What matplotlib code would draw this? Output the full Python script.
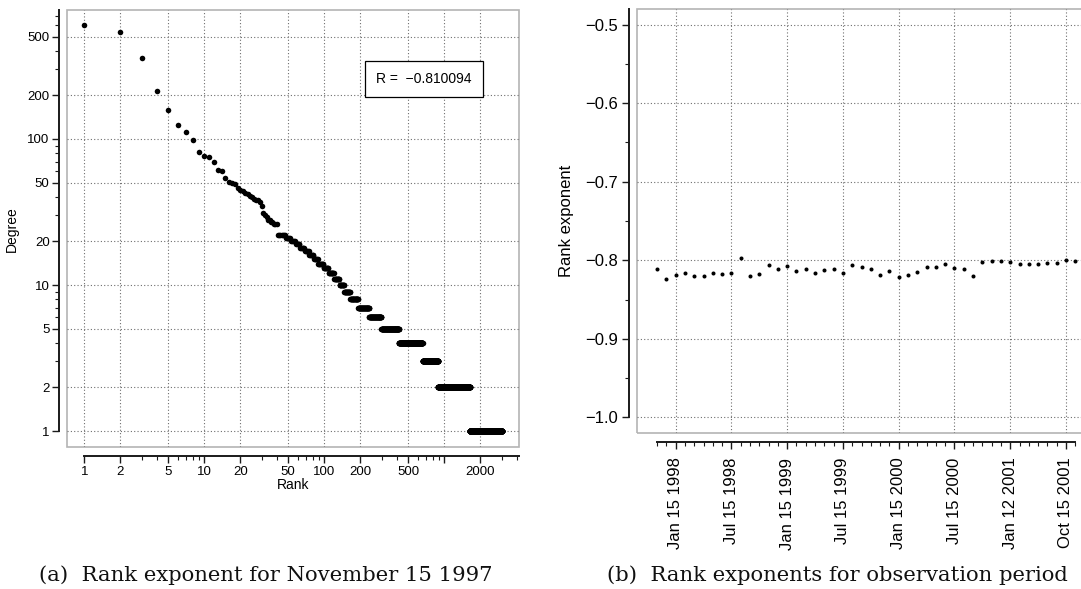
import numpy as np
import matplotlib
matplotlib.use("Agg")
import matplotlib.pyplot as plt
from matplotlib.patches import Rectangle
from matplotlib.ticker import FixedLocator, NullFormatter

plt.rcParams["font.family"] = ["Liberation Sans", "DejaVu Sans"]

# ---- degree/rank data (AS graph, November 15 1997) ----
top_degrees = [600, 540, 358, 213, 159, 124, 112, 99, 82, 77,
               75, 70, 61, 60, 54, 51, 50, 49, 46, 45,
               44, 43, 42, 41, 40, 39, 38, 38, 37, 35,
               31, 30, 29, 28, 28, 27, 27, 26, 26, 26]
plateau_degrees = [22, 21, 20, 19, 18, 17, 16, 15, 14, 13, 12,
                   11, 10, 9, 8, 7, 6, 5, 4, 3, 2, 1]
plateau_counts = [7, 5, 5, 5, 6, 6, 7, 7, 10, 10, 12,
                  13, 13, 18, 27, 45, 62, 120, 241, 228, 742, 1386]
rank_exponent_R = -0.810094

# ---- rank exponent per observation ----
obs_exponents = [-0.8106, -0.8237, -0.8190, -0.8160, -0.8200, -0.8200, -0.8165, -0.8170,
                 -0.8160, -0.7974, -0.8200, -0.8170, -0.8067, -0.8110, -0.8076, -0.8135,
                 -0.8110, -0.8160, -0.8127, -0.8110, -0.8160, -0.8067, -0.8088, -0.8110,
                 -0.8190, -0.8140, -0.8216, -0.8190, -0.8150, -0.8080, -0.8090, -0.8050,
                 -0.8097, -0.8106, -0.8200, -0.8020, -0.8012, -0.8004, -0.8020, -0.8046,
                 -0.8046, -0.8046, -0.8030, -0.8030, -0.8000, -0.8012]
date_tick_index = [2, 8, 14, 20, 26, 32, 38, 44]
date_tick_labels = ["Jan 15 1998", "Jul 15 1998", "Jan 15 1999", "Jul 15 1999",
                    "Jan 15 2000", "Jul 15 2000", "Jan 12 2001", "Oct 15 2001"]

W, H = 1081, 589
fig = plt.figure(figsize=(W / 100, H / 100), dpi=100)
fig.patch.set_facecolor("white")

FRAME = "#b4b4b4"
GRID = dict(color="#6e6e6e", linestyle=(0, (1, 2)), linewidth=0.8)
AXC = "#1a1a1a"
FS_A = 9.5
FS_B = 12


def px_axes(x0, y0, x1, y1):
    return fig.add_axes([x0 / W, 1 - y1 / H, (x1 - x0) / W, (y1 - y0) / H])


def style_axes(ax, left_out, bottom_out, fs, pad):
    for s in ("top", "right"):
        ax.spines[s].set_visible(False)
    ax.spines["left"].set_position(("outward", left_out * 0.72))
    ax.spines["bottom"].set_position(("outward", bottom_out * 0.72))
    for s in ("left", "bottom"):
        ax.spines[s].set_linewidth(1.4)
        ax.spines[s].set_color(AXC)
    ax.add_patch(Rectangle((0, 0), 1, 1, transform=ax.transAxes, fill=False,
                           edgecolor=FRAME, linewidth=1.2, clip_on=False, zorder=0))
    ax.tick_params(which="major", direction="out", length=5, width=1.0,
                   color=AXC, labelsize=fs, pad=pad)
    ax.tick_params(which="minor", direction="out", length=3, width=0.8, color=AXC)


# ================= (a) rank plot =================
axa = px_axes(67.3, 10, 519, 447.3)
ranks = np.arange(1, len(top_degrees) + sum(plateau_counts) + 1)
degrees = np.concatenate([top_degrees, np.repeat(plateau_degrees, plateau_counts)])
axa.set_xscale("log")
axa.set_yscale("log")
axa.set_xlim(0.7217, 4193)
axa.set_ylim(0.7736, 764.7)
style_axes(axa, 8, 8.7, FS_A, 2)

xmaj = [1, 2, 5, 10, 20, 50, 100, 200, 500, 1000, 2000]
xlab = ["1", "2", "5", "10", "20", "50", "100", "200", "500", "", "2000"]
minor_mult = [3, 4, 6, 7, 8, 9]
xmin_t = [m * 10 ** k for k in range(0, 4) for m in minor_mult if m * 10 ** k < 4200]
axa.xaxis.set_major_locator(FixedLocator(xmaj))
axa.set_xticklabels(xlab)
axa.xaxis.set_minor_locator(FixedLocator(xmin_t))
axa.xaxis.set_minor_formatter(NullFormatter())
ymaj = [1, 2, 5, 10, 20, 50, 100, 200, 500]
ymin_t = [m * 10 ** k for k in range(0, 3) for m in minor_mult if m * 10 ** k < 760]
axa.yaxis.set_major_locator(FixedLocator(ymaj))
axa.set_yticklabels([str(v) for v in ymaj])
axa.yaxis.set_minor_locator(FixedLocator(ymin_t))
axa.yaxis.set_minor_formatter(NullFormatter())
axa.spines["bottom"].set_bounds(1, 4193)
axa.spines["left"].set_bounds(1, 764.7)
axa.grid(True, which="major", **GRID)
axa.set_axisbelow(True)

axa.plot(ranks, degrees, "o", color="black", markersize=4.0, markeredgewidth=0, zorder=3)
axa.set_xlabel("Rank", fontsize=FS_A + 0.5, labelpad=0)
axa.set_ylabel("Degree", fontsize=FS_A + 0.5, labelpad=6)
axa.text(0.79, 0.843, "R =  \u2212%.6f" % abs(rank_exponent_R), transform=axa.transAxes,
         ha="center", va="center", fontsize=FS_A + 0.5,
         bbox=dict(boxstyle="square,pad=0.8", facecolor="white", edgecolor="black",
                   linewidth=0.9), zorder=5)

# ================= (b) exponents over time =================
idx = np.arange(len(obs_exponents))
x0b = 637.0
step = 9.293
x_at0 = 657.1
xr_lim = 47.0
axb = px_axes(x0b, 9.3, x_at0 + step * xr_lim, 433)
axb.set_xlim((x0b - x_at0) / step, xr_lim)
axb.set_ylim(-1.0199, -0.4806)
style_axes(axb, 7.7, 9.3, FS_B, 3)
axb.xaxis.set_major_locator(FixedLocator(date_tick_index))
axb.set_xticklabels(date_tick_labels, rotation=90)
axb.tick_params(axis="x", which="major", pad=6)
axb.xaxis.set_minor_locator(FixedLocator(list(idx)))
yvals = [-1.0, -0.9, -0.8, -0.7, -0.6, -0.5]
axb.yaxis.set_major_locator(FixedLocator(yvals))
axb.set_yticklabels(["\u2212%.1f" % abs(v) for v in yvals])
axb.yaxis.set_minor_locator(FixedLocator([-0.95, -0.85, -0.75, -0.65, -0.55]))
axb.spines["bottom"].set_bounds(0, len(obs_exponents) - 1)
axb.spines["left"].set_bounds(-1.0, -0.4806)
axb.grid(True, which="major", **GRID)
axb.set_axisbelow(True)
axb.plot(idx, obs_exponents, "o", color="black", markersize=2.9, markeredgewidth=0, zorder=3)
axb.set_ylabel("Rank exponent", fontsize=FS_B, labelpad=8)

# ---- sub-captions ----
cap_font = dict(family="DejaVu Serif", fontsize=15.2, color="#111111")
fig.text(266 / W, 1 - 575 / H, "(a)  Rank exponent for November 15 1997",
         ha="center", va="center", **cap_font)
fig.text(837 / W, 1 - 575 / H, "(b)  Rank exponents for observation period",
         ha="center", va="center", **cap_font)

fig.savefig("out.png", dpi=100, facecolor="white")
